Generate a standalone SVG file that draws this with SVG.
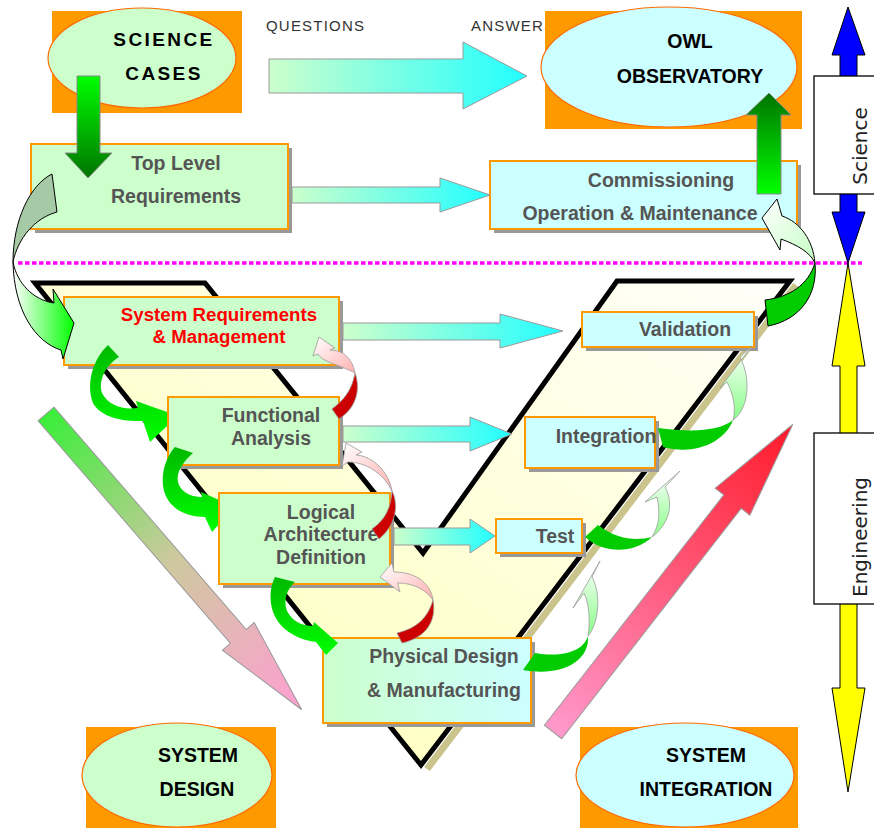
<svg xmlns="http://www.w3.org/2000/svg" width="874" height="828" viewBox="0 0 874 828">
  <defs>
    <linearGradient id="gFlow" x1="0" y1="0" x2="1" y2="0">
      <stop offset="0" stop-color="#ccffcc"/>
      <stop offset="1" stop-color="#22ffff"/>
    </linearGradient>
    <linearGradient id="gDown" x1="0" y1="0" x2="0" y2="1">
      <stop offset="0" stop-color="#00ff00"/>
      <stop offset="1" stop-color="#007400"/>
    </linearGradient>
    <linearGradient id="gUp" x1="0" y1="1" x2="0" y2="0">
      <stop offset="0" stop-color="#00ff00"/>
      <stop offset="1" stop-color="#007400"/>
    </linearGradient>
    <linearGradient id="gPhys" x1="0" y1="0" x2="1" y2="0">
      <stop offset="0" stop-color="#ccffcc"/>
      <stop offset="1" stop-color="#ccffff"/>
    </linearGradient>
    <linearGradient id="gV" x1="1" y1="0" x2="0" y2="1">
      <stop offset="0" stop-color="#fffffa"/>
      <stop offset="1" stop-color="#ffffb4"/>
    </linearGradient>
    <linearGradient id="gDesign" gradientUnits="userSpaceOnUse" x1="0" y1="0" x2="391" y2="0">
      <stop offset="0" stop-color="#3aee3a"/>
      <stop offset="0.5" stop-color="#cfc8a0"/>
      <stop offset="1" stop-color="#ff9fd2"/>
    </linearGradient>
    <linearGradient id="gIntegrate" gradientUnits="userSpaceOnUse" x1="0" y1="0" x2="390" y2="0">
      <stop offset="0" stop-color="#ff99cc"/>
      <stop offset="1" stop-color="#ff1a2a"/>
    </linearGradient>
    <linearGradient id="gDesc" x1="0" y1="0" x2="0" y2="1">
      <stop offset="0" stop-color="#00b800"/>
      <stop offset="1" stop-color="#00ff00"/>
    </linearGradient>
    <linearGradient id="gPink" x1="1" y1="1" x2="0" y2="0">
      <stop offset="0" stop-color="#ffb0b0"/>
      <stop offset="1" stop-color="#ffffff"/>
    </linearGradient>
    <linearGradient id="gLift" x1="0" y1="0" x2="0" y2="1">
      <stop offset="0" stop-color="#ffffff"/>
      <stop offset="1" stop-color="#88ff88"/>
    </linearGradient>
    <linearGradient id="gFrontL" x1="0" y1="0" x2="1" y2="0">
      <stop offset="0" stop-color="#ffffff"/>
      <stop offset="1" stop-color="#00ff00"/>
    </linearGradient>
    <linearGradient id="gBackR" x1="0" y1="0" x2="1" y2="1">
      <stop offset="0" stop-color="#ffffff"/>
      <stop offset="1" stop-color="#c4ffc4"/>
    </linearGradient>
    <style>
      .shadow{fill:#999999}
      .box{stroke:#ff9900;stroke-width:2}
      .gr{fill:#ccffcc}
      .cy{fill:#ccffff}
      .orange{fill:#ff9900}
      .ell{stroke:#ff6a00;stroke-width:1.2}
      .t{font-family:"Liberation Sans",Arial,sans-serif;font-weight:bold;text-anchor:middle}
      .lbl{font-size:19.5px;fill:#555555}
      .blk{font-size:19.5px;fill:#000000}
      .note{font-family:"Liberation Sans",Arial,sans-serif;font-size:15px;letter-spacing:1.2px;fill:#333333}
      .flow{fill:url(#gFlow);stroke:#999999;stroke-width:1}
      .edge{stroke:#999999;stroke-width:0.8}
      .desc{fill:url(#gDesc)}
      .red{fill:#cc0000}
      .pink{fill:url(#gPink)}
      .lift{fill:url(#gLift)}
      .dark{fill:#00cc00}
      .side{fill:#ffffff;stroke:#000000;stroke-width:1.3}
      .sidet{font-family:"DejaVu Sans",sans-serif;font-size:20px;fill:#222222;text-anchor:middle}
      .scale{stroke:#000000;stroke-width:1}
    </style>
  </defs>

  <!-- V-model band -->
  <g id="v-model">
    <line x1="796" y1="285" x2="427" y2="769" stroke="#cac48c" stroke-width="7"/>
    <polygon points="35,283 205,283 423,553 617,281 790,281 421,765" fill="url(#gV)" stroke="#000000" stroke-width="5" stroke-linejoin="miter"/>
  </g>

  <!-- science / engineering boundary -->
  <line id="divider" x1="18" y1="263" x2="862" y2="263" stroke="#ff00ff" stroke-width="3.5" stroke-dasharray="4.5 2.5"/>

  <g id="labels">
    <text class="note" x="266" y="31">QUESTIONS</text>
    <text class="note" x="471" y="31">ANSWERS</text>
  </g>

  <!-- nodes -->
  <g id="science-cases">
    <rect class="orange" x="52" y="11" width="190" height="102"/>
    <ellipse class="gr ell" cx="142" cy="58" rx="94" ry="50"/>
    <text class="t" x="164" y="46" font-size="19" letter-spacing="2.4">SCIENCE</text>
    <text class="t" x="164" y="80" font-size="19" letter-spacing="2.4">CASES</text>
  </g>

  <g id="owl-observatory">
    <rect class="orange" x="545" y="11" width="257" height="118"/>
    <ellipse class="cy ell" cx="669" cy="67" rx="128" ry="60"/>
    <text class="t blk" x="690" y="48">OWL</text>
    <text class="t blk" x="690" y="83">OBSERVATORY</text>
  </g>

  <g id="top-level-requirements">
    <rect class="shadow" x="35" y="148" width="257" height="85"/>
    <rect class="box gr" x="31" y="144" width="257" height="85"/>
    <text class="t lbl" x="176" y="170" font-size="20">Top Level</text>
    <text class="t lbl" x="176" y="203" font-size="20">Requirements</text>
  </g>

  <g id="commissioning">
    <rect class="shadow" x="494" y="165" width="307" height="68"/>
    <rect class="box cy" x="490" y="161" width="307" height="68"/>
    <text class="t lbl" x="661" y="187" font-size="20">Commissioning</text>
    <text class="t lbl" x="640" y="220" font-size="20">Operation &amp; Maintenance</text>
  </g>

  <g id="system-requirements">
    <rect class="shadow" x="68" y="301" width="275" height="68"/>
    <rect class="box gr" x="64" y="297" width="275" height="68"/>
    <text class="t" x="219" y="321" font-size="18.7" fill="#ff0000">System Requirements</text>
    <text class="t" x="219" y="343" font-size="18.7" fill="#ff0000">&amp; Management</text>
  </g>

  <g id="functional-analysis">
    <rect class="shadow" x="172" y="401" width="171" height="68"/>
    <rect class="box gr" x="168" y="397" width="171" height="68"/>
    <text class="t lbl" x="271" y="422">Functional</text>
    <text class="t lbl" x="271" y="445">Analysis</text>
  </g>

  <g id="logical-architecture">
    <rect class="shadow" x="223" y="497" width="171" height="91"/>
    <rect class="box gr" x="219" y="493" width="171" height="91"/>
    <text class="t lbl" x="321" y="519">Logical</text>
    <text class="t lbl" x="321" y="541">Architecture</text>
    <text class="t lbl" x="321" y="564">Definition</text>
  </g>

  <g id="physical-design">
    <rect class="shadow" x="327" y="642" width="208" height="85"/>
    <rect class="box" x="323" y="638" width="208" height="85" fill="url(#gPhys)"/>
    <text class="t lbl" x="444" y="663">Physical Design</text>
    <text class="t lbl" x="444" y="697">&amp; Manufacturing</text>
  </g>

  <g id="validation">
    <rect class="shadow" x="586" y="316" width="172" height="35"/>
    <rect class="box cy" x="582" y="312" width="172" height="35"/>
    <text class="t lbl" x="685" y="336">Validation</text>
  </g>

  <g id="integration">
    <rect class="shadow" x="529" y="421" width="130" height="51"/>
    <rect class="box cy" x="525" y="417" width="130" height="51"/>
    <text class="t lbl" x="606" y="443">Integration</text>
  </g>

  <g id="test">
    <rect class="shadow" x="500" y="523" width="86" height="34"/>
    <rect class="box cy" x="496" y="519" width="86" height="34"/>
    <text class="t lbl" x="555" y="543">Test</text>
  </g>

  <g id="system-design">
    <rect class="orange" x="86" y="727" width="190" height="101"/>
    <ellipse class="gr ell" cx="177" cy="775" rx="95" ry="52"/>
    <text class="t blk" x="198" y="762">SYSTEM</text>
    <text class="t blk" x="197" y="796">DESIGN</text>
  </g>

  <g id="system-integration">
    <rect class="orange" x="580" y="727" width="218" height="101"/>
    <ellipse class="cy ell" cx="685" cy="775" rx="109" ry="52"/>
    <text class="t blk" x="706" y="762">SYSTEM</text>
    <text class="t blk" x="706" y="796">INTEGRATION</text>
  </g>

  <!-- connectors -->
  <g id="connectors">
    <!-- straight flows -->
    <path class="flow" d="M269,59 H463 V42 L527,76 L463,109 V93 H269 Z"/>
    <path class="flow" d="M292,187 H440 V178 L490,195 L440,212 V203 H292 Z"/>
    <path class="flow" d="M343,323 H500 V314 L563,331 L500,348 V340 H343 Z"/>
    <path class="flow" d="M343,426 H470 V417 L512,434 L470,451 V442 H343 Z"/>
    <path class="flow" d="M394,528 H470 V519 L495,536 L470,553 V545 H394 Z"/>

    <!-- vertical links to the observatory level -->
    <path d="M77,76 H100 V153 H112 L88,178 L65,153 H77 Z" fill="url(#gDown)" stroke="#888888" stroke-width="1"/>
    <path d="M757,194 H781 V115 H791 L769,93 L746,115 H757 Z" fill="url(#gUp)" stroke="#888888" stroke-width="1"/>

    <!-- design / integration trend arrows -->
    <path transform="translate(46,414) rotate(49.15)" d="M0,-10.5 H294 V-21 L391,0 L294,21 V10.5 H0 Z" fill="url(#gDesign)" stroke="#999999" stroke-width="1"/>
    <path transform="translate(553,732) rotate(-52.07)" d="M0,-11 H292 V-22 L390,0 L292,22 V11 H0 Z" fill="url(#gIntegrate)" stroke="#999999" stroke-width="1"/>

    <!-- requirements flow-down into the V -->
    <path d="M52,174 C30,185 13,220 13,262 C18,238 35,218 57,212 Z" fill="#a6caa6" stroke="#000000" stroke-width="1"/>
    <path d="M13,262 C17,283 33,300 54,303 L53,289 L74,323 L63,359 L61,350 C35,342 14,310 13,262 Z" fill="url(#gFrontL)" stroke="#000000" stroke-width="1"/>

    <!-- validation up to commissioning -->
    <path d="M815,263 C818,295 800,320 768,326 L765,300 C790,297 808,285 815,263 Z" fill="#00cc00" stroke="#000000" stroke-width="1"/>
    <path d="M815,263 C813,240 800,222 782,216 L777,199 L762,218 L780,250 L781,239 C797,245 810,252 815,263 Z" fill="url(#gBackR)" stroke="#000000" stroke-width="1"/>

    <!-- decomposition steps -->
    <path class="desc" d="M108,345 C92,360 86,385 93,403 C100,416 120,422 143,421 L150,442 L167,426 L167,412 L136,401 L138,408 C122,410 108,405 102,393 C98,380 106,365 119,357 Z"/>
    <path class="desc" d="M175,447 C163,460 158,485 168,500 C176,512 190,517 205,517 L212,532 L218,525.5 L218,499.5 L201,492 L202,497 C190,497 180,491 178,482 C176,472 183,462 193,453 Z"/>
    <path class="desc" d="M275,577 C266,595 270,622 292,634 C300,639 308,641 316,642 L326,655 L338,643 L314,622 L313,626 C302,626 292,621 287,611 C283,600 287,589 295,582 Z"/>

    <!-- feedback loops -->
    <path class="red edge" d="M332,409 C344,400 352,390 355,373 C361,390 356,408 339,419 Z"/>
    <path class="pink edge" d="M355,373 C352,357 342,350 330,350 L335,348 L319,337 L313,356 L318,354 C322,362 338,364 355,373 Z"/>
    <path class="red edge" d="M372,529 C385,520 391,508 392,491 C399,505 396,525 379,539 Z"/>
    <path class="pink edge" d="M392,491 C389,472 373,456 356,455 L362,452 L346,443 L342,466 L348,462 C366,462 384,474 392,491 Z"/>
    <path class="red edge" d="M433,600 C428,617 418,628 397,633 L402,643 C425,638 437,622 433,600 Z"/>
    <path class="pink edge" d="M433,600 C431,585 418,572 394,572 L392,563 L380,577 L400,592 L397.6,583 C414,583 426,590 433,600 Z"/>

    <!-- integration steps -->
    <path class="dark" d="M588,636 C584,650 565,658 535,653 L523,670 C560,677 590,662 588,636 Z"/>
    <path class="lift edge" d="M588,636 C598,625 602,595 592,577 L600,561 L573,608 L584,593 C590,605 590,625 588,636 Z"/>
    <path class="dark" d="M652,537 C640,540 620,542 598,525 L585,537 C605,555 635,553 652,537 Z"/>
    <path class="lift edge" d="M652,537 C668,525 675,505 665,487 L680,471 L645,502 L657,497 C660,510 660,525 652,537 Z"/>
    <path class="dark" d="M733,420 C718,432 690,432 658,428 L663,447 C695,456 725,442 733,420 Z"/>
    <path class="lift edge" d="M733,420 C748,410 752,380 740,357 L752,346 L720,388 L727,382 C734,395 736,410 733,420 Z"/>
  </g>

  <!-- domain scale on the right -->
  <g id="science-scale">
    <path class="scale" d="M848,7 L865,55 L857,55 L857,212 L865,212 L848,263 L832,212 L840,212 L840,55 L832,55 Z" fill="#0000ff"/>
    <rect class="side" x="814" y="76" width="62" height="118"/>
    <text class="sidet" transform="translate(867,146) rotate(-90)">Science</text>
  </g>
  <g id="engineering-scale">
    <path class="scale" d="M848,263 L865,366 L857,366 L857,688 L865,688 L848,792 L832,688 L840,688 L840,366 L832,366 Z" fill="#ffff00"/>
    <rect class="side" x="814" y="433" width="62" height="171"/>
    <text class="sidet" transform="translate(867,537) rotate(-90)">Engineering</text>
  </g>
</svg>
